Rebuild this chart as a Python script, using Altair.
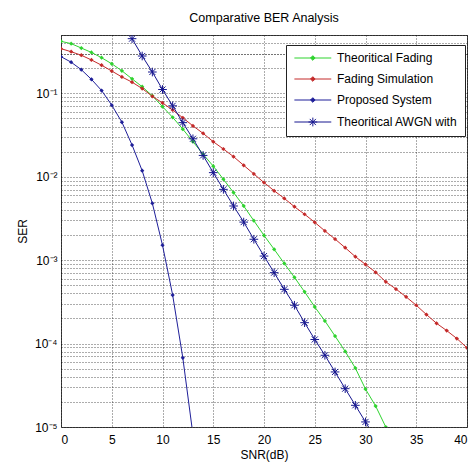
import altair as alt
import pandas as pd

# ---- data ----
snr_fading = list(range(0, 33))
ser_fading = [0.42, 0.394, 0.349, 0.309, 0.267, 0.226, 0.186, 0.149, 0.12, 0.0933,
              0.0692, 0.0515, 0.0372, 0.0263, 0.0186, 0.0134, 0.00933, 0.00646, 0.00446, 0.00297,
              0.00198, 0.00135, 0.000912, 0.000622, 0.000417, 0.000275, 0.000187, 0.000123, 8.05e-5, 5.08e-5,
              2.85e-5, 1.78e-5, 1.0e-5]

snr_sim = list(range(0, 41))
ser_sim = [0.343, 0.315, 0.286, 0.251, 0.217, 0.185, 0.157, 0.136, 0.114, 0.092,
           0.0766, 0.0631, 0.0509, 0.0407, 0.0331, 0.0263, 0.0215, 0.0174, 0.0137, 0.0108,
           0.00851, 0.00679, 0.0055, 0.00437, 0.00355, 0.00284, 0.00224, 0.00179, 0.00141, 0.0011,
           0.00089, 0.000715, 0.00055, 0.000451, 0.000363, 0.000288, 0.000223, 0.000175, 0.000143, 0.000115,
           8.9e-5]

snr_prop = list(range(0, 14))
ser_prop = [0.275, 0.236, 0.192, 0.147, 0.108, 0.0721, 0.0451, 0.024, 0.0118, 0.0048,
            0.00151, 0.000382, 6.76e-5, 8.1e-6]

snr_awgn = list(range(7, 32))
ser_awgn = [0.452, 0.28, 0.18, 0.111, 0.0708, 0.0445, 0.0285, 0.018, 0.0112, 0.00706,
            0.00446, 0.00286, 0.00178, 0.00112, 0.000708, 0.000447, 0.000288, 0.000178, 0.000112, 7.24e-5,
            4.57e-5, 2.88e-5, 1.82e-5, 1.15e-5, 7.2e-6]

names = ["Theoritical Fading", "Fading Simulation", "Proposed System", "Theoritical AWGN with"]
colors = ["#2fd32f", "#c42a2a", "#1f1f99", "#16168f"]

x_ticks = list(range(0, 41, 5))
y_ticks = [m * 10.0 ** d for d in range(-5, 0) for m in range(1, 10)] + [0.2, 0.3, 0.4, 0.5]

rows = []
for name, xs, ys in zip(names, [snr_fading, snr_sim, snr_prop, snr_awgn],
                        [ser_fading, ser_sim, ser_prop, ser_awgn]):
    for xv, yv in zip(xs, ys):
        rows.append({"series": name, "snr": xv, "ser": yv})
df = pd.DataFrame(rows)

FONT = "Liberation Sans, Arial, sans-serif"
AWGN = names[3]
# legend glyphs: line segment with a marker in its middle (units = sqrt(size)/2 px)
LINE_DOT = "M-1,0L7,0M2.5,0L3,-0.5L3.5,0L3,0.5Z"
LINE_STAR = ("M-1,0L7,0M2.05,0L3.95,0M3,-0.95L3,0.95"
             "M2.33,-0.67L3.67,0.67M2.33,0.67L3.67,-0.67")
STAR = "M-1,0L1,0M0,-1L0,1M-0.7,-0.7L0.7,0.7M-0.7,0.7L0.7,-0.7"
LEG_SIZE = 85

x_enc = alt.X("snr:Q",
              scale=alt.Scale(domain=[0, 40], nice=False, zero=False),
              axis=alt.Axis(values=x_ticks, title="SNR(dB)", grid=True, ticks=False, tickSize=0,
                            domain=False, labelPadding=7, titlePadding=4,
                            gridDash=[1, 2], gridColor="#000000", gridOpacity=0.65))
y_enc = alt.Y("ser:Q",
              scale=alt.Scale(type="log", domain=[1e-5, 0.5], nice=False),
              axis=alt.Axis(values=y_ticks, title="SER", grid=True, ticks=False, tickSize=0,
                            domain=False, labelPadding=4, titlePadding=5,
                            gridDash=[1, 2], gridColor="#000000", gridOpacity=0.65,
                            labelExpr="abs(log(datum.value)/LN10 - round(log(datum.value)/LN10)) > 0.001 ? '' : "
                                      "['10⁻⁵','10⁻⁴','10⁻³','10⁻²','10⁻¹'][round(log(datum.value)/LN10) + 5]"))
color_scale = alt.Scale(domain=names, range=colors)

legend = alt.Legend(
    title=None, orient="none", legendX=225, legendY=10,
    fillColor="white", strokeColor="#222222", padding=7, rowPadding=9,
    symbolSize=LEG_SIZE, symbolStrokeWidth=1, symbolOpacity=1,
    labelFont=FONT, labelFontSize=12, labelOffset=32, labelLimit=0, labelColor="#000000",
)

base = alt.Chart(df)

lines = base.mark_line(strokeWidth=1, clip=True).encode(
    x=x_enc, y=y_enc,
    color=alt.Color("series:N", scale=color_scale, legend=None),
)

dots = base.transform_filter(alt.datum.series != AWGN).mark_point(
    shape="diamond", filled=True, size=18, opacity=1, clip=True
).encode(x=x_enc, y=y_enc, color=alt.Color("series:N", scale=color_scale, legend=None))

stars = base.transform_filter(alt.datum.series == AWGN).mark_point(
    shape=STAR, filled=False, size=75, strokeWidth=1, opacity=1, clip=True
).encode(x=x_enc, y=y_enc, color=alt.Color("series:N", scale=color_scale, legend=None))

# legend-only layer: no data rows pass, symbols come from the scales
legend_layer = base.transform_filter("false").mark_point(
    filled=False, size=LEG_SIZE, strokeWidth=1, opacity=1
).encode(
    x=x_enc, y=y_enc,
    color=alt.Color("series:N", scale=color_scale, legend=legend),
    shape=alt.Shape("series:N", scale=alt.Scale(domain=names,
                                                range=[LINE_DOT, LINE_DOT, LINE_DOT, LINE_STAR]),
                    legend=legend),
    fill=alt.Fill("series:N", scale=alt.Scale(domain=names,
                                              range=colors[:3] + ["transparent"]),
                  legend=legend),
)

chart = alt.layer(lines, dots, stars, legend_layer).resolve_legend(
    color="independent", shape="independent", fill="independent"
).properties(
    width=406, height=392,
    autosize=alt.AutoSizeParams(type="none"),
    padding={"left": 61, "top": 35, "right": 9, "bottom": 41},
    background="white",
    title=alt.TitleParams("Comparative BER Analysis", font=FONT, fontSize=12.5,
                          fontWeight="normal", color="#000000", offset=11, anchor="middle"),
).configure_view(stroke="#444444", strokeWidth=1).configure_axis(
    labelFont=FONT, labelFontSize=12, labelColor="#000000",
    titleFont=FONT, titleFontSize=12, titleFontWeight="normal", titleColor="#000000",
)

chart.save("out.html", embed_options={"renderer": "svg", "actions": False})
